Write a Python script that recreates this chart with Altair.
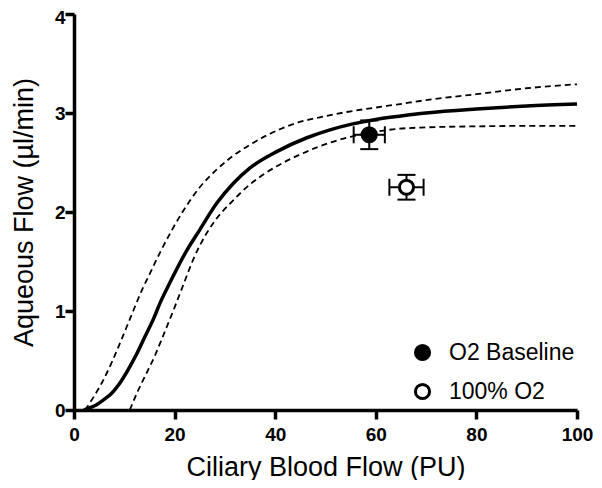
import altair as alt
import pandas as pd

# Fitted curve (solid) and confidence band (dashed)
solid_x = [2.0, 3.0, 4.0, 5.8, 7.5, 9.1, 10.8, 12.5, 14.0, 15.8, 17.1, 19.0, 22.4, 25.0, 28.4,
           31.7, 35.0, 40.3, 46.3, 50.9, 55.0, 60.0, 65.0, 70.0, 80.0, 90.0, 100.0]
solid_y = [0.0, 0.02, 0.04, 0.10, 0.17, 0.27, 0.41, 0.57, 0.73, 0.92, 1.08, 1.28, 1.61, 1.82, 2.09,
           2.29, 2.445, 2.61, 2.75, 2.83, 2.885, 2.935, 2.97, 3.00, 3.04, 3.07, 3.09]

upper_x = [2.2, 4.0, 5.8, 7.5, 9.1, 11.2, 13.5, 15.1, 17.1, 21.7, 25.0, 28.4, 31.7, 35.0, 41.6,
           44.3, 50.2, 54.2, 60.0, 64.1, 70.0, 80.0, 90.0, 100.0]
upper_y = [0.0, 0.14, 0.30, 0.48, 0.67, 0.93, 1.21, 1.38, 1.59, 2.01, 2.25, 2.43, 2.57, 2.68, 2.85,
           2.90, 2.97, 3.01, 3.055, 3.085, 3.13, 3.19, 3.25, 3.29]

lower_x = [11.1, 12.5, 14.4, 16.0, 17.8, 20.1, 22.0, 23.7, 25.0, 28.0, 31.7, 35.0, 38.3, 44.9,
           50.9, 55.0, 60.0, 63.4, 70.0, 80.0, 90.0, 100.0]
lower_y = [0.0, 0.17, 0.37, 0.54, 0.76, 1.05, 1.30, 1.52, 1.66, 1.91, 2.12, 2.28, 2.40, 2.58,
           2.70, 2.76, 2.81, 2.835, 2.855, 2.865, 2.87, 2.87]

# Data points with error bars
pt_series = ["O2 Baseline", "100% O2"]
pt_x = [58.7, 66.1]
pt_y = [2.78, 2.25]
pt_xerr = [3.1, 3.4]
pt_yerr = [0.145, 0.125]

x_ticks = [0, 20, 40, 60, 80, 100]
y_ticks = [0, 1, 2, 3, 4]

FONT = "Liberation Sans"

solid_df = pd.DataFrame({"x": solid_x, "y": solid_y})
upper_df = pd.DataFrame({"x": upper_x, "y": upper_y})
lower_df = pd.DataFrame({"x": lower_x, "y": lower_y})
pts = pd.DataFrame({"series": pt_series, "x": pt_x, "y": pt_y, "xerr": pt_xerr, "yerr": pt_yerr})
pts["xlo"] = pts["x"] - pts["xerr"]
pts["xhi"] = pts["x"] + pts["xerr"]
pts["ylo"] = pts["y"] - pts["yerr"]
pts["yhi"] = pts["y"] + pts["yerr"]

xscale = alt.Scale(domain=[0, 100], nice=False)
yscale = alt.Scale(domain=[0, 4], nice=False)
xaxis = alt.Axis(title="Ciliary Blood Flow (PU)", values=x_ticks, titleBaseline="alphabetic", titleY=65,
                 labelPadding=6)
yaxis = alt.Axis(title="Aqueous Flow (µl/min)", values=y_ticks, titleBaseline="alphabetic", titleX=-42,
                 labelPadding=0,
                 labelOffset={"condition": {"test": "datum.value == 4", "value": 3}, "value": 0})

X = alt.X("x:Q", scale=xscale, axis=xaxis)
Y = alt.Y("y:Q", scale=yscale, axis=yaxis)

solid = alt.Chart(solid_df).mark_line(color="black", strokeWidth=3.5, interpolate="monotone").encode(x=X, y=Y)
upper = alt.Chart(upper_df).mark_line(color="black", strokeWidth=1.8, strokeDash=[6, 4],
                                      interpolate="monotone").encode(x=X, y=Y)
lower = alt.Chart(lower_df).mark_line(color="black", strokeWidth=1.8, strokeDash=[6, 4],
                                      interpolate="monotone").encode(x=X, y=Y)

base = alt.Chart(pts)
xerr_rule = base.mark_rule(color="black", strokeWidth=2).encode(x=alt.X("xlo:Q", scale=xscale, axis=xaxis),
                                                                  x2="xhi:Q", y=alt.Y("y:Q", scale=yscale, axis=yaxis))
yerr_rule = base.mark_rule(color="black", strokeWidth=2).encode(x=alt.X("x:Q", scale=xscale, axis=xaxis),
                                                                  y=alt.Y("ylo:Q", scale=yscale, axis=yaxis), y2="yhi:Q")
xcap_lo = base.mark_tick(orient="vertical", size=17, thickness=2, color="black", opacity=1).encode(
    x=alt.X("xlo:Q", scale=xscale, axis=xaxis), y=alt.Y("y:Q", scale=yscale, axis=yaxis))
xcap_hi = base.mark_tick(orient="vertical", size=17, thickness=2, color="black", opacity=1).encode(
    x=alt.X("xhi:Q", scale=xscale, axis=xaxis), y=alt.Y("y:Q", scale=yscale, axis=yaxis))
ycap_lo = base.mark_tick(orient="horizontal", size=18, thickness=2, color="black", opacity=1).encode(
    x=alt.X("x:Q", scale=xscale, axis=xaxis), y=alt.Y("ylo:Q", scale=yscale, axis=yaxis))
ycap_hi = base.mark_tick(orient="horizontal", size=18, thickness=2, color="black", opacity=1).encode(
    x=alt.X("x:Q", scale=xscale, axis=xaxis), y=alt.Y("yhi:Q", scale=yscale, axis=yaxis))

points = base.mark_point(shape="circle", size=200, stroke="black", strokeWidth=3, opacity=1).encode(
    x=X, y=Y,
    fill=alt.Fill("series:N", sort=pt_series,
                  scale=alt.Scale(domain=pt_series, range=["black", "white"]),
                  legend=alt.Legend(title=None, orient="none", legendX=337, legendY=327,
                                    labelFontSize=23, labelFont=FONT, labelColor="black",
                                    symbolType="circle", symbolSize=200, symbolStrokeColor="black",
                                    symbolStrokeWidth=3, symbolOpacity=1, rowPadding=12,
                                    labelOffset=15, padding=0)),
)

chart = alt.layer(upper, lower, solid, xerr_rule, yerr_rule, xcap_lo, xcap_hi, ycap_lo, ycap_hi, points).properties(
    width=503, height=396,
    autosize=alt.AutoSizeParams(type="none"),
    padding={"left": 66, "top": 6, "right": 17, "bottom": 70},
    background="white",
).configure_view(stroke=None).configure_axis(
    grid=False,
    domainColor="black", domainWidth=3.5,
    tickColor="black", tickWidth=3.5, tickSize=9,
    labelFont=FONT, labelFontSize=19, labelFontWeight="bold", labelColor="black",
    titleFont=FONT, titleFontSize=27, titleFontWeight="normal", titleColor="black",
    labelFlush=False,
)

chart.save("out.html", embed_options={"renderer": "svg", "actions": False})
